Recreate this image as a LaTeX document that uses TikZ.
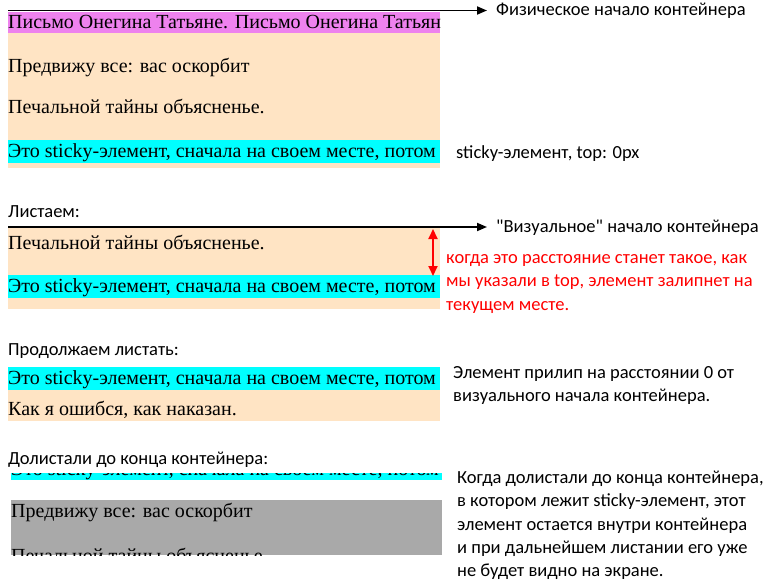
\documentclass[tikz,border=0pt]{standalone}
\usepackage{fontspec}
\setmainfont{Liberation Serif}
\newfontfamily\calfont{Carlito}
\usetikzlibrary{arrows.meta}
\definecolor{violetbg}{HTML}{EE82EE}
\definecolor{bisquebg}{HTML}{FFE4C4}
\definecolor{cyanbg}{HTML}{00FFFF}
\definecolor{graybg}{HTML}{A9A9A9}
\definecolor{redtxt}{HTML}{FF0000}
\tikzset{
  serif/.style={inner sep=0pt, anchor=base west, font=\fontsize{20}{23}\selectfont},
  sans/.style={inner sep=0pt, anchor=base west, font=\calfont\fontsize{18.5}{23}\selectfont},
  note/.style={inner sep=0pt, anchor=north west, align=left, font=\calfont\fontsize{18.5}{23.2}\selectfont},
  marker/.style={line width=1.8pt, -{Triangle[length=10pt,width=8pt]}},
  dist/.style={line width=2pt, draw=redtxt, {Triangle[length=10pt,width=9pt]}-{Triangle[length=10pt,width=9pt]}},
}
\begin{document}
\begin{tikzpicture}[x=1pt,y=-1pt]
\useasboundingbox (0,0) rectangle (768,586);
\fill[white] (0,0) rectangle (768,586);
% ---------- Section 1 ----------
\fill[bisquebg] (8,33) rectangle (440,168);
\fill[violetbg] (8,12) rectangle (440,33);
\fill[cyanbg] (8,140) rectangle (440,163);
\begin{scope}
\clip (8,12) rectangle (440,33);
\node[serif, text height=15pt, text depth=4pt] (t1) at (8,29) {Письмо Онегина Татьяне. Письмо Онегина Татьяне.};
\end{scope}
\node[serif] (t2) at (8,72) {Предвижу все: вас оскорбит};
\node[serif] (t3) at (8,113) {Печальной тайны объясненье.};
\node[serif] (t4) at (8,157) {Это sticky-элемент, сначала на своем месте, потом};
\coordinate (p1s) at (8,10.5);
\coordinate (p1e) at (487,10.5);
\draw[marker] (p1s) -- (p1e);
\node[sans] (l1) at (496,16) {Физическое начало контейнера};
\node[sans] (l2) at (456,158) {sticky-элемент, top: 0px};
% ---------- Section 2 ----------
\node[sans] (h2) at (8,217) {Листаем:};
\fill[bisquebg] (8,228) rectangle (440,309);
\fill[cyanbg] (8,275) rectangle (440,298);
\node[serif] (s2a) at (8,249) {Печальной тайны объясненье.};
\node[serif] (s2b) at (8,292) {Это sticky-элемент, сначала на своем месте, потом};
\coordinate (p2s) at (8,227);
\coordinate (p2e) at (487,227);
\draw[marker] (p2s) -- (p2e);
\node[sans] (l3) at (496,232) {"Визуальное" начало контейнера};
\coordinate (d1) at (433,229);
\coordinate (d2) at (433,276);
\draw[dist] (d1) -- (d2);
\node[note, text=redtxt] (l4) at (446,254.5) {когда это расстояние станет такое, как\\мы указали в top, элемент залипнет на\\текущем месте.};
% ---------- Section 3 ----------
\node[sans] (h3) at (8,355) {Продолжаем листать:};
\fill[cyanbg] (8,367) rectangle (440,390);
\fill[bisquebg] (8,390) rectangle (440,421);
\node[serif] (s3a) at (8,384) {Это sticky-элемент, сначала на своем месте, потом};
\node[serif] (s3b) at (8,415) {Как я ошибся, как наказан.};
\node[note] (l5) at (453,366) {Элемент прилип на расстоянии 0 от\\визуального начала контейнера.};
% ---------- Section 4 ----------
\node[sans] (h4) at (8,464) {Долистали до конца контейнера:};
\fill[cyanbg] (11,473) rectangle (442,480);
\begin{scope}
\clip (11,473) rectangle (442,480);
\node[serif, text height=2pt, text depth=4pt] (s4a) at (11,475.5) {Это sticky-элемент, сначала на своем месте, потом};
\end{scope}
\fill[graybg] (11,500) rectangle (442,555);
\begin{scope}
\clip (11,500) rectangle (442,555);
\node[serif] (s4b) at (11,517) {Предвижу все: вас оскорбит};
\node[serif, text height=7pt, text depth=0pt] (s4c) at (11,562.5) {Печальной тайны объясненье.};
\end{scope}
\node[note] (l6) at (457,471) {Когда долистали до конца контейнера,\\в котором лежит sticky-элемент, этот\\элемент остается внутри контейнера\\и при дальнейшем листании его уже\\не будет видно на экране.};
\end{tikzpicture}
\end{document}
